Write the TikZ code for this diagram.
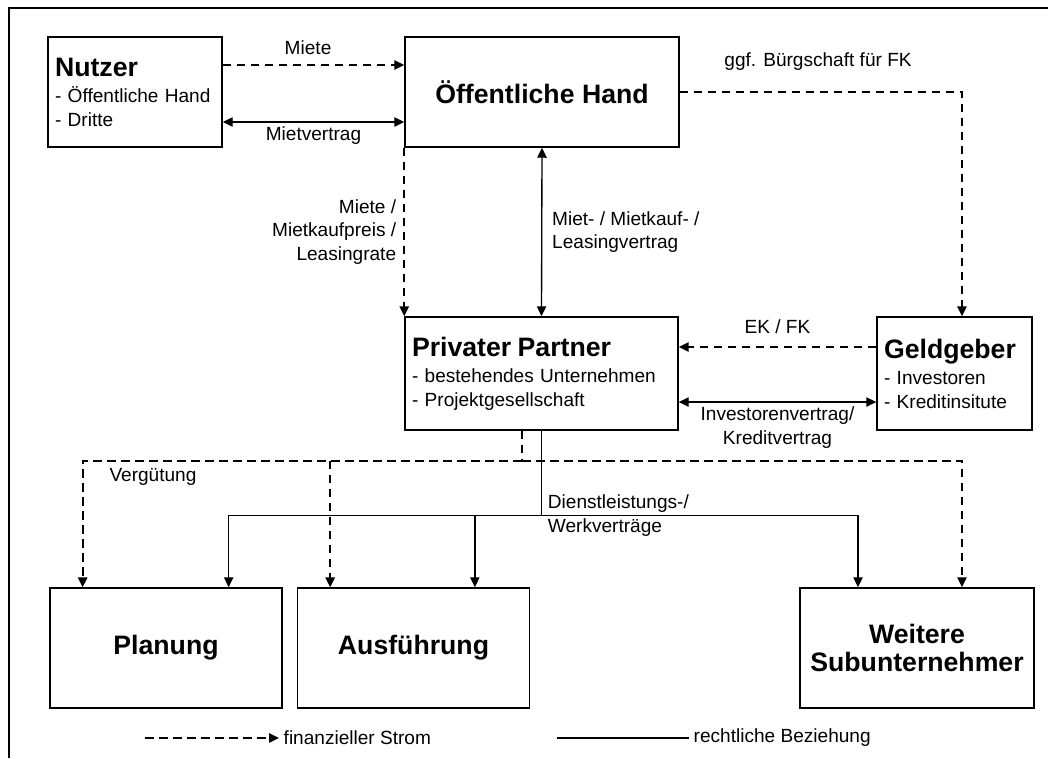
\documentclass[tikz,border=0pt]{standalone}
\usepackage{fontspec}
\setmainfont{Liberation Sans}
\usepackage{tikz}
\usetikzlibrary{arrows.meta}

\newcommand{\boxhead}[1]{{\fontsize{20}{23}\selectfont\bfseries #1}}

\begin{document}
\begin{tikzpicture}[x=0.75pt, y=-0.75pt,
    every node/.style={font=\fontsize{14.3}{17.8}\selectfont},
    box/.style={draw, line width=1.1pt, inner xsep=5.25pt, inner ysep=0pt},
    fin/.style={line width=1.5pt, dash pattern=on 6.5pt off 4pt,
      -{Triangle[length=7.5pt, width=7pt]}},
    rel/.style={line width=1pt},
    relarrow/.style={rel, -{Triangle[length=7.5pt, width=7pt]}},
    reldouble/.style={rel, {Triangle[length=7.5pt, width=7pt]}-{Triangle[length=7.5pt, width=7pt]}}]
  \useasboundingbox (0,0) rectangle (1048,758);

  % Rahmen
  \draw[line width=1.2pt] (9,758) -- (9,8) -- (1048,8);

  % Kaesten
  \node (nutzer) [box, text width=120pt, minimum height=82.5pt, align=left] at (135,92)
    {\boxhead{Nutzer}\\[2pt] - Öffentliche Hand\\ - Dritte};
  \node (oeh) [box, minimum width=205.5pt, minimum height=82.5pt] at (542,92)
    {\boxhead{Öffentliche Hand}};
  \node (pp) [box, text width=194.25pt, minimum height=84.75pt, align=left] at (541.5,373.5)
    {\boxhead{Privater Partner}\\[2pt] - bestehendes Unternehmen\\ - Projektgesellschaft};
  \node (geld) [box, text width=105.75pt, minimum height=84.75pt, align=left] at (954.5,373.5)
    {\boxhead{Geldgeber}\\[2pt] - Investoren\\ - Kreditinsitute};
  \node (planung) [box, minimum width=174pt, minimum height=90pt] at (166,648)
    {\boxhead{Planung}};
  \node (ausf) [box, minimum width=174pt, minimum height=90pt] at (413.5,648)
    {\boxhead{Ausführung}};
  \node (weitere) [box, minimum width=175.5pt, minimum height=90pt, align=center] at (917,648)
    {\boxhead{Weitere}\\[3pt] \boxhead{Subunternehmer}};

  \coordinate (pdash) at ([xshift=-62.5pt]planung.north);
  \coordinate (psol) at ([xshift=47pt]planung.north);
  \coordinate (adash) at ([xshift=-62.5pt]ausf.north);
  \coordinate (asol) at ([xshift=46pt]ausf.north);
  \coordinate (wsol) at ([xshift=-44.25pt]weitere.north);
  \coordinate (wdash) at ([xshift=33.75pt]weitere.north);

  % Nutzer -- Oeffentliche Hand
  \draw[fin] ([yshift=20.25pt]nutzer.east) -- node (lmiete) [above=4pt, pos=0.47] {Miete}
    ([yshift=20.25pt]oeh.west);
  \draw[reldouble] ([yshift=-22.5pt]nutzer.east) -- node (lmietvertrag) [below] {Mietvertrag}
    ([yshift=-22.5pt]oeh.west);

  % Oeffentliche Hand -- Geldgeber
  \draw[fin] (oeh.east) -| node (lbuerg) [above=12pt, pos=0.245] {ggf. Bürgschaft für FK}
    ([xshift=5.6pt]geld.north);

  % Oeffentliche Hand -- Privater Partner
  \draw[fin] (oeh.south west) -- node (lrate) [left=2pt, align=right]
    {Miete /\\Mietkaufpreis /\\Leasingrate} (pp.north west);
  \draw[reldouble] (oeh.south) -- node (lleasing) [right=4pt, align=left]
    {Miet- / Mietkauf- /\\Leasingvertrag} (pp.north);

  % Geldgeber -- Privater Partner
  \draw[fin] ([yshift=19.9pt]geld.west) -- node (lekfk) [above=6pt] {EK / FK}
    ([yshift=19.9pt]pp.east);
  \draw[reldouble] ([yshift=-21.4pt]pp.east) -- node (linvest) [below, align=center]
    {Investorenvertrag/\\Kreditvertrag} ([yshift=-21.4pt]geld.west);

  % Verguetung an die Subunternehmer
  \draw[fin, -] ([xshift=-14.6pt]pp.south) -- ++(0,30) coordinate (fhub);
  \draw[fin] (fhub) -| node (lverg) [below=2pt, pos=0.42] {Vergütung} (pdash);
  \draw[fin] (fhub) -| (wdash);
  \draw[fin] (adash |- fhub) -- (adash);

  % Vertraege mit den Subunternehmern
  \draw[rel] (pp.south) -- ++(0,85) coordinate (rhub)
    node (ldienst) [right=1pt, align=left] {Dienstleistungs-/\\Werkverträge};
  \draw[relarrow] (rhub) -| (psol);
  \draw[relarrow] (rhub) -| (wsol);
  \draw[relarrow] (asol |- rhub) -- (asol);

  % Legende
  \coordinate (legfin) at (145,738);
  \node (legfintext) [right] at (279,738) {finanzieller Strom};
  \draw[fin] (legfin) -- (legfintext.west);
  \coordinate (legrel) at (557,738);
  \node (legreltext) [right] at (689,738) {rechtliche Beziehung};
  \draw[rel] (legrel) -- (legreltext.west);
\end{tikzpicture}
\end{document}
